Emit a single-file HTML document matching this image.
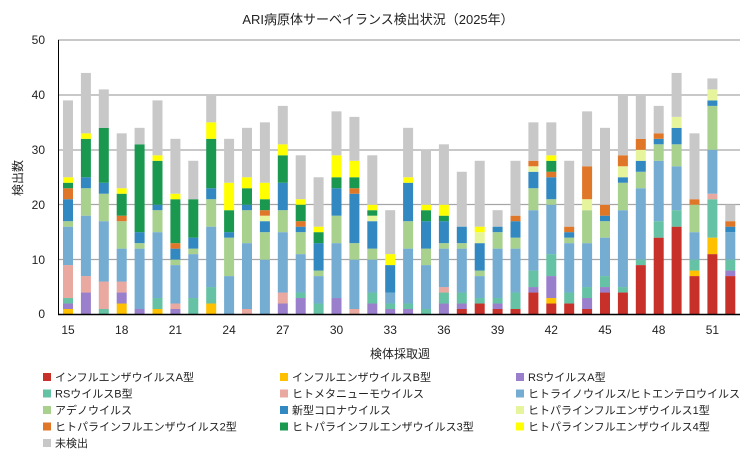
<!DOCTYPE html>
<html><head><meta charset="utf-8"><style>
body{margin:0;background:#fff;}
svg text{font-family:"Liberation Sans","Noto Sans CJK JP",sans-serif;fill:#222;}
</style></head><body>
<svg id="s" width="756" height="454" xmlns="http://www.w3.org/2000/svg">
<rect width="756" height="454" fill="#fff"/>
<text x="378" y="24" font-size="13" text-anchor="middle">ARI病原体サーベイランス検出状況（2025年）</text>
<g id="grid" stroke="#a6a6a6" stroke-width="1.3">
<line x1="58" x2="740" y1="40" y2="40"/><line x1="58" x2="740" y1="95" y2="95"/><line x1="58" x2="740" y1="150" y2="150"/><line x1="58" x2="740" y1="204.5" y2="204.5"/><line x1="58" x2="740" y1="259.5" y2="259.5"/>
</g>
<g font-size="12" text-anchor="end">
<text x="45" y="44">50</text><text x="45" y="99">40</text><text x="45" y="154">30</text><text x="45" y="209">20</text><text x="45" y="264">10</text><text x="45" y="318">0</text>
</g>
<text transform="translate(22,178) rotate(-90)" font-size="12" text-anchor="middle">検出数</text>
<g id="bars"></g>
<line x1="58.5" x2="58.5" y1="40" y2="315" stroke="#000" stroke-width="1"/>
<line x1="58" x2="740" y1="314.5" y2="314.5" stroke="#000" stroke-width="1.5"/>
<g font-size="12" text-anchor="middle" id="xt"></g>
<text x="400" y="358" font-size="12" text-anchor="middle">検体採取週</text>
<g id="leg" font-size="11"></g>
</svg>
<script>
var C={A:"#c8312a",B:"#ffc000",P:"#9a7fcc",T:"#66c2a5",K:"#e9a8a0",L:"#74acd2",G:"#a9d18e",V:"#3288c0",Q:"#e6f59b",O:"#e07628",D:"#1a9850",Y:"#ffff00",N:"#c8c8c8"};
var data=[
"B1 P1 T1 K6 L7 G1 V4 O2 D1 Y1 N14",
"P4 K3 L11 G5 V2 D7 Y1 N11",
"T1 K5 L11 G5 V2 D10 N7",
"B2 P2 K2 L6 G5 O1 D4 Y1 N10",
"P1 L11 G1 V2 D16 N3",
"B1 T2 L12 G4 V1 D8 Y1 N10",
"P1 K1 L7 G1 V2 O1 D8 Y1 N10",
"T3 L8 G1 V2 D7 N7",
"B2 T3 L11 G5 V2 D9 Y3 N5",
"L7 G7 V1 D4 Y5 N8",
"K1 L12 G6 V1 D3 Y2 N9",
"L10 G5 V2 Q1 O1 D2 Y3 N11",
"P2 K2 L11 G4 V5 D5 Y2 N7",
"P3 T1 L7 G4 V1 O1 D3 Y1 N8",
"T2 L5 G1 V5 D2 Y1 N9",
"P3 L10 G5 V5 D2 Y4 N8",
"K1 L9 G3 V9 O1 D2 Y3 N8",
"P2 T2 L6 G2 V5 Q1 D1 Y1 N9",
"P1 T1 L2 V5 Y2 N8",
"P1 T1 L10 G5 V7 Y1 N9",
"T1 L8 G3 V5 D2 Y1 N10",
"P2 T2 K1 L7 G1 V4 D1 Y2 N11",
"A1 P1 T2 L8 G1 V3 N10",
"A2 T1 L4 G1 V5 Q2 Y1 N12",
"A1 P1 T1 L9 G3 V1 N3",
"A1 T3 L8 G2 V3 O1 N10",
"A4 P1 T3 L11 G4 V3 Q1 O1 N7",
"A2 B1 P4 T4 L9 G1 V4 O1 D2 Y1 N6",
"A2 T2 L9 G1 V1 O1 N12",
"A1 P2 T2 L8 G6 Q2 O6 N10",
"A4 P1 T2 L7 G3 V1 O2 N14",
"A4 T1 L14 G5 V1 Q2 O2 N11",
"A9 T1 L13 G3 V2 Q2 O2 N8",
"A14 T3 L11 G3 V1 O1 N5",
"A16 T3 L8 G4 V3 Q2 N8",
"A7 B1 T2 L5 G5 O1 N12",
"A11 B3 T7 K1 L8 G8 V1 Q2 N2",
"A7 P1 T2 L5 V1 O1 N3"];
var ns="http://www.w3.org/2000/svg",g=document.getElementById("bars");
var y0=314.5,u=5.49;
data.forEach(function(s,i){var cx=68+i*17.9,y=y0;
s.split(" ").forEach(function(t){var m=t.match(/^([A-Z])(\d+)$/);var k=m[1],n=+m[2];
var h=n*u;var r=document.createElementNS(ns,"rect");r.setAttribute("x",cx-5);r.setAttribute("width",10);r.setAttribute("y",y-h);r.setAttribute("height",h);r.setAttribute("fill",C[k]);g.appendChild(r);y-=h;});});
var xt=document.getElementById("xt");
for(var w=15;w<=51;w+=3){var t=document.createElementNS(ns,"text");t.setAttribute("x",68+(w-15)*17.9);t.setAttribute("y",334);t.textContent=w;xt.appendChild(t);}
var L=[["A","インフルエンザウイルスA型"],["B","インフルエンザウイルスB型"],["P","RSウイルスA型"],["T","RSウイルスB型"],["K","ヒトメタニューモウイルス"],["L","ヒトライノウイルス/ヒトエンテロウイルス"],["G","アデノウイルス"],["V","新型コロナウイルス"],["Q","ヒトパラインフルエンザウイルス1型"],["O","ヒトパラインフルエンザウイルス2型"],["D","ヒトパラインフルエンザウイルス3型"],["Y","ヒトパラインフルエンザウイルス4型"],["N","未検出"]];
var lg=document.getElementById("leg");
L.forEach(function(e,i){var col=i%3,row=Math.floor(i/3);var x=[43,280,516][col],y=377+row*16.5;
var r=document.createElementNS(ns,"rect");r.setAttribute("x",x);r.setAttribute("y",y-4);r.setAttribute("width",8);r.setAttribute("height",8);r.setAttribute("fill",C[e[0]]);lg.appendChild(r);
var t=document.createElementNS(ns,"text");t.setAttribute("x",x+12);t.setAttribute("y",y+4);t.textContent=e[1];lg.appendChild(t);});
</script>
</body></html>
